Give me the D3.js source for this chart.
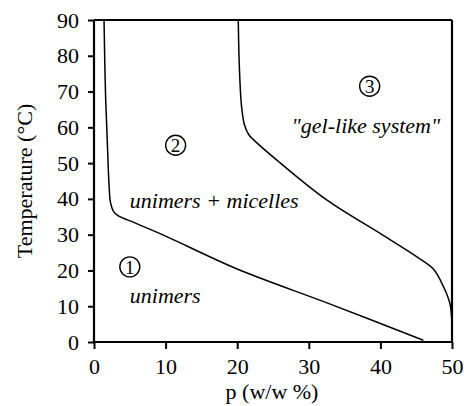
<!DOCTYPE html>
<html>
<head>
<meta charset="utf-8">
<script src="https://cdn.jsdelivr.net/npm/d3@7"></script>
<style>
  html, body { margin: 0; padding: 0; background: #fff; }
  svg { display: block; }
</style>
</head>
<body>
<script>
// ---- Data ----
const xTicks = [0, 10, 20, 30, 40, 50];
const yTicks = [0, 10, 20, 30, 40, 50, 60, 70, 80, 90];
const xTitle = "p (w/w %)";
const yTitle = "Temperature (°C)";

// boundary unimers / unimers + micelles  [p, T]
const boundary1P = [1.4, 1.6, 1.9, 2.1, 2.3, 2.7, 3.3, 5.7, 10, 20, 33, 46];
const boundary1T = [90, 70, 53.7, 44, 39, 36.6, 35.4, 33.3, 29.6, 20.4, 10.6, 0.5];

// boundary unimers + micelles / gel-like system  [p, T]
const boundary2P = [20.15, 20.3, 20.6, 21.0, 21.6, 22.3, 25.5, 32.5, 39.9, 45.1, 47.4, 48.8, 49.7, 50];
const boundary2T = [90, 77, 66, 60.8, 58, 56.5, 50.9, 39.7, 30.4, 23.8, 20.4, 15.5, 10.8, 5];

// region markers [label, p, T]
const regionNums = ["1", "2", "3"];
const regionP = [5.0, 11.4, 38.5];
const regionT = [21, 55, 71.5];

// region descriptions
const regionText = ["unimers", "unimers + micelles", "\"gel-like system\""];
const regionTextP = [5.0, 5.0, 27.6];
const regionTextT = [10.9, 37.5, 58.4];

// ---- Layout ----
const W = 464, H = 406;
const margin = { top: 20, right: 12, bottom: 64, left: 94 };
const FONT = "'Liberation Serif'";

const svg = d3.select("body").append("svg").attr("width", W).attr("height", H);

const x = d3.scaleLinear().domain([0, 50]).range([margin.left, W - margin.right]);
const y = d3.scaleLinear().domain([0, 90]).range([H - margin.bottom, margin.top]);

// frame top & right
svg.append("line").attr("x1", x(0)).attr("x2", x(50)).attr("y1", y(90)).attr("y2", y(90))
  .attr("stroke", "#000").attr("stroke-width", 2.2);
svg.append("line").attr("x1", x(50)).attr("x2", x(50)).attr("y1", y(90)).attr("y2", y(0))
  .attr("stroke", "#000").attr("stroke-width", 2.2);

// axes
const xAxis = svg.append("g").attr("transform", `translate(0,${y(0)})`)
  .call(d3.axisBottom(x).tickValues(xTicks).tickSize(7).tickPadding(9).tickFormat(d3.format("d")));
const yAxis = svg.append("g").attr("transform", `translate(${x(0)},0)`)
  .call(d3.axisLeft(y).tickValues(yTicks).tickSize(6).tickPadding(9).tickFormat(d3.format("d")));

[xAxis, yAxis].forEach(g => {
  g.attr("font-family", null).attr("font-size", null);
  g.select(".domain").attr("stroke", "#000").attr("stroke-width", 2.2);
  g.selectAll(".tick line").attr("stroke", "#000").attr("stroke-width", 2);
  g.selectAll(".tick text").style("font-family", FONT).style("font-size", "22px").attr("fill", "#000");
});
xAxis.select(".domain").attr("d", `M${x(0)},0H${x(50)}`);
yAxis.select(".domain").attr("d", `M0,${y(0)}V${y(90)}`);

// titles
svg.append("text").attr("x", 272).attr("y", 399).attr("text-anchor", "middle")
  .style("font-family", FONT).style("font-size", "22px").text(xTitle);
svg.append("text").attr("transform", "translate(32,181) rotate(-90)").attr("text-anchor", "middle")
  .style("font-family", FONT).style("font-size", "22px").text(yTitle);

// curves
const line = d3.line().x(d => x(d[0])).y(d => y(d[1])).curve(d3.curveCatmullRom.alpha(0.5));
const b1 = boundary1P.map((p, i) => [p, boundary1T[i]]);
const b2 = boundary2P.map((p, i) => [p, boundary2T[i]]);
[b1, b2].forEach(b => {
  svg.append("path").attr("d", line(b)).attr("fill", "none").attr("stroke", "#000").attr("stroke-width", 1.5);
});

// region markers
regionNums.forEach((n, i) => {
  const cx = x(regionP[i]), cy = y(regionT[i]);
  svg.append("circle").attr("cx", cx).attr("cy", cy).attr("r", 10)
    .attr("fill", "none").attr("stroke", "#000").attr("stroke-width", 1.4);
  svg.append("text").attr("x", cx).attr("y", cy).attr("dy", "0.35em").attr("text-anchor", "middle")
    .style("font-family", FONT).style("font-size", "19px").text(n);
});

// region texts
regionText.forEach((t, i) => {
  svg.append("text").attr("x", x(regionTextP[i])).attr("y", y(regionTextT[i]))
    .style("font-family", FONT).style("font-size", "22px").style("font-style", "italic").text(t);
});
</script>
</body>
</html>
